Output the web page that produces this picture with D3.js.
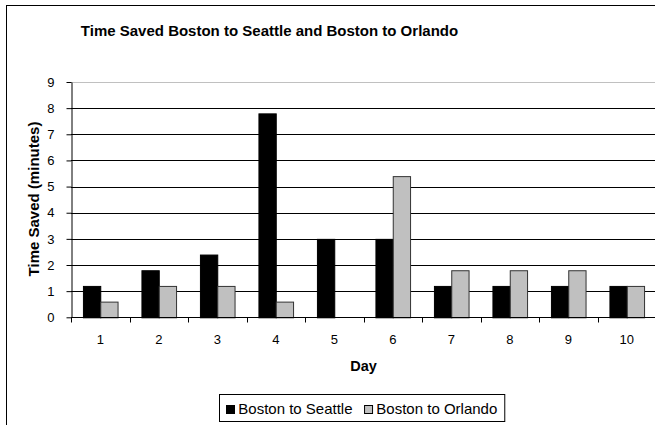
<!DOCTYPE html>
<html>
<head>
<meta charset="utf-8">
<script src="https://cdn.jsdelivr.net/npm/d3@7"></script>
<style>
  html, body { margin: 0; padding: 0; background: #fff; }
  svg { display: block; font-family: "Liberation Sans", Arial, sans-serif; }
</style>
</head>
<body>
<svg id="chart" width="655" height="425"></svg>
<script>
// Chart data
const days = ["1", "2", "3", "4", "5", "6", "7", "8", "9", "10"];
const seriesNames = ["Boston to Seattle", "Boston to Orlando"];
const seattle = [1.2, 1.8, 2.4, 7.8, 3.0, 3.0, 1.2, 1.2, 1.2, 1.2];
const orlando = [0.6, 1.2, 1.2, 0.6, 0, 5.4, 1.8, 1.8, 1.8, 1.2];
const yTicks = [0, 1, 2, 3, 4, 5, 6, 7, 8, 9];
const colors = ["#000000", "#c0c0c0"];

const svg = d3.select("#chart");

// Outer chart frame (runs past the right and bottom edges)
svg.append("rect")
  .attr("x", 6.5).attr("y", 5.5)
  .attr("width", 700).attr("height", 460)
  .attr("fill", "#fff").attr("stroke", "#000").attr("stroke-width", 1);

const plot = { left: 71, right: 656, top: 82, bottom: 317.3 };

const x = d3.scaleBand().domain(days).range([plot.left, plot.right]).padding(0);
const xs = d3.scaleBand().domain(seriesNames).range([0, x.bandwidth()])
  .paddingInner(0).paddingOuter(0.69);
const y = d3.scaleLinear().domain([0, 9]).range([plot.bottom, plot.top]);

// Title
svg.append("text")
  .attr("x", 269.5).attr("y", 36)
  .attr("text-anchor", "middle")
  .attr("font-size", 15).attr("font-weight", "bold")
  .text("Time Saved Boston to Seattle and Boston to Orlando");

// Horizontal gridlines
svg.append("g").selectAll("line")
  .data(yTicks.filter(d => d > 0))
  .join("line")
  .attr("x1", plot.left).attr("x2", plot.right)
  .attr("y1", d => Math.round(y(d)) + 0.5).attr("y2", d => Math.round(y(d)) + 0.5)
  .attr("stroke", d => d === 9 ? "#c0c0c0" : "#000")
  .attr("stroke-width", 1);

// Bars
const data = days.map((d, i) => ({ day: d, values: [seattle[i], orlando[i]] }));
const groups = svg.append("g").selectAll("g")
  .data(data)
  .join("g")
  .attr("transform", d => `translate(${x(d.day)},0)`);

groups.selectAll("rect")
  .data(d => d.values.map((v, j) => ({ name: seriesNames[j], value: v, idx: j })).filter(e => e.value > 0))
  .join("rect")
  .attr("x", e => xs(e.name) + 0.5)
  .attr("y", e => y(e.value) + 0.5)
  .attr("width", xs.bandwidth())
  .attr("height", e => y(0) - y(e.value))
  .attr("fill", e => colors[e.idx])
  .attr("stroke", e => e.idx === 0 ? "#000" : "#333")
  .attr("stroke-width", 1);

// Y axis
const yAxis = svg.append("g")
  .attr("transform", `translate(${plot.left + 0.5},0)`)
  .call(d3.axisLeft(y).tickValues(yTicks).tickSize(5).tickPadding(12).tickSizeOuter(0));
yAxis.select(".domain").attr("stroke", "#000");
yAxis.selectAll(".tick line").attr("stroke", "#000");
yAxis.selectAll(".tick text")
  .attr("font-size", 13).attr("font-family", "Liberation Sans, Arial, sans-serif")
  .attr("fill", "#000");

// X axis with ticks between categories
const xAxisG = svg.append("g")
  .attr("transform", `translate(0,${Math.round(plot.bottom) + 0.5})`);
xAxisG.append("line")
  .attr("x1", plot.left).attr("x2", plot.right)
  .attr("stroke", "#000");
xAxisG.selectAll("line.tick")
  .data(days)
  .join("line")
  .attr("class", "tick")
  .attr("x1", d => Math.round(x(d)) + 0.5).attr("x2", d => Math.round(x(d)) + 0.5)
  .attr("y1", 0).attr("y2", 5)
  .attr("stroke", "#000");
xAxisG.selectAll("text")
  .data(days)
  .join("text")
  .attr("x", d => x(d) + x.bandwidth() / 2)
  .attr("y", 26)
  .attr("text-anchor", "middle")
  .attr("font-size", 13)
  .text(d => d);

// Axis titles
svg.append("text")
  .attr("x", (plot.left + plot.right) / 2).attr("y", 371)
  .attr("text-anchor", "middle")
  .attr("font-size", 14.5).attr("font-weight", "bold")
  .text("Day");

svg.append("text")
  .attr("transform", "translate(39,199) rotate(-90)")
  .attr("text-anchor", "middle")
  .attr("font-size", 15).attr("font-weight", "bold")
  .text("Time Saved (minutes)");

// Legend
const legend = svg.append("g");
const legendBox = legend.append("rect")
  .attr("fill", "#fff").attr("stroke", "#000");
let lx = 226;
const items = legend.selectAll("g.item")
  .data(seriesNames)
  .join("g").attr("class", "item");
items.each(function (name, i) {
  const g = d3.select(this);
  g.append("rect")
    .attr("x", lx + 0.5).attr("y", 405.5)
    .attr("width", 8).attr("height", 8)
    .attr("fill", colors[i]).attr("stroke", "#000");
  const t = g.append("text")
    .attr("x", lx + 12.3).attr("y", 414)
    .attr("font-size", 15)
    .text(name);
  lx = lx + 12.3 + t.node().getComputedTextLength() + 11.5;
});
legendBox
  .attr("x", 219.5).attr("y", 394.5)
  .attr("width", lx - 11.5 + 7 - 219).attr("height", 27);
</script>
</body>
</html>
